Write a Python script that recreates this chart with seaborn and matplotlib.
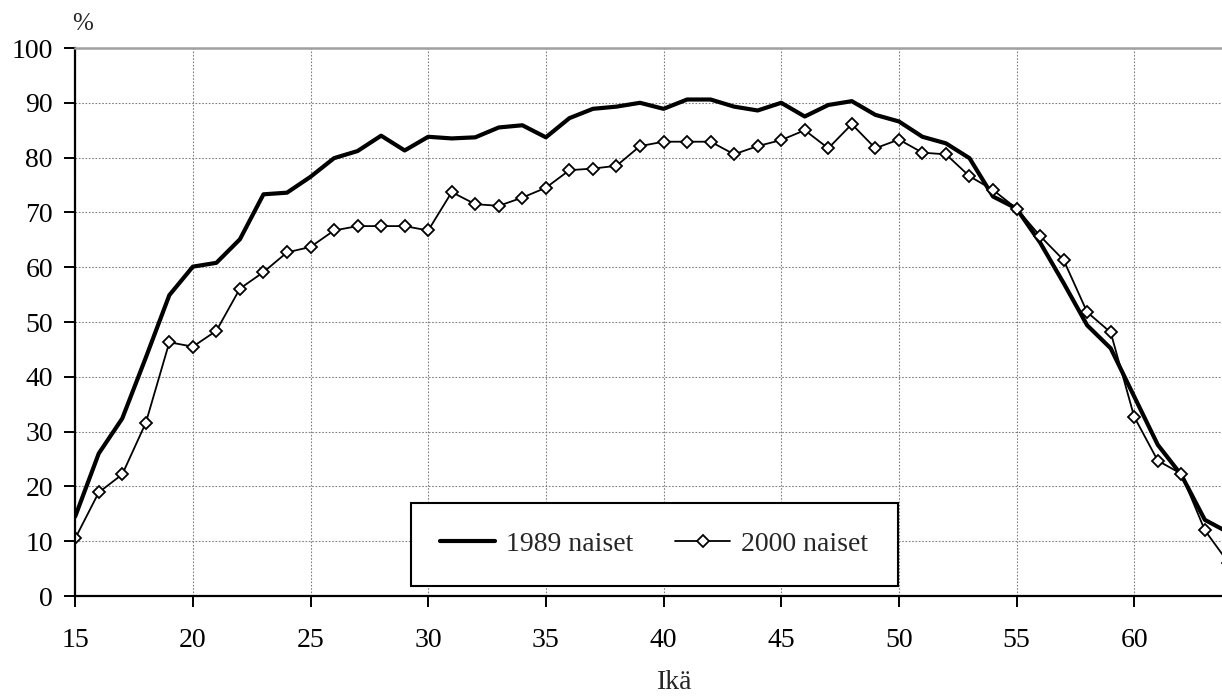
import matplotlib.pyplot as plt
import numpy as np
import pandas as pd
import seaborn as sns

# ages 15..64
age = list(range(15, 65))

naiset_1989 = [14.5, 26.0, 32.4, 43.5, 54.9, 60.1, 60.8, 65.1, 73.3, 73.6,
               76.5, 79.9, 81.2, 84.0, 81.3, 83.8, 83.5, 83.7, 85.5, 85.9,
               83.7, 87.2, 88.9, 89.3, 90.0, 88.9, 90.6, 90.6, 89.3, 88.6,
               90.0, 87.5, 89.6, 90.3, 87.8, 86.6, 83.8, 82.6, 79.9, 72.9,
               70.7, 64.5, 57.1, 49.4, 45.2, 36.4, 27.6, 22.1, 13.9, 11.6]

naiset_2000 = [10.5, 18.9, 22.2, 31.6, 46.3, 45.5, 48.4, 56.1, 59.1, 62.7,
               63.7, 66.7, 67.5, 67.5, 67.5, 66.7, 73.7, 71.5, 71.2, 72.7,
               74.5, 77.7, 78.0, 78.5, 82.1, 82.9, 82.9, 82.9, 80.6, 82.1,
               83.2, 85.0, 81.7, 86.1, 81.7, 83.3, 80.9, 80.6, 76.6, 74.1,
               70.7, 65.7, 61.3, 51.8, 48.1, 32.7, 24.7, 22.3, 12.0, 6.1]

df = pd.DataFrame({'Ikä': age, '1989 naiset': naiset_1989, '2000 naiset': naiset_2000})

sns.set_style('white')
plt.rcParams['font.family'] = ['Liberation Serif', 'DejaVu Serif']

fig = plt.figure(figsize=(12.22, 6.99), dpi=100)
ax = fig.add_axes([75.2 / 1222, 103 / 699, 1 - 75.2 / 1222, 548 / 699])

sns.lineplot(data=df, x='Ikä', y='1989 naiset', color='black', linewidth=3.0,
             label='1989 naiset', ax=ax)
sns.lineplot(data=df, x='Ikä', y='2000 naiset', color='black', linewidth=1.3,
             marker='D', markersize=6.4, markerfacecolor='white',
             markeredgecolor='black', markeredgewidth=1.3,
             label='2000 naiset', ax=ax)

ax.set_xlim(15, 63.73)
ax.set_ylim(0, 100)
ax.set_xticks(np.arange(15, 64, 5))
ax.set_yticks(np.arange(0, 101, 10))
ax.grid(True, color='#808080', linestyle=(0, (1.5, 1.5)), linewidth=0.8)

for s in ['left', 'bottom']:
    ax.spines[s].set_color('black')
    ax.spines[s].set_linewidth(1.6)
ax.spines['top'].set_color('#a0a0a0')
ax.spines['top'].set_linewidth(1.8)
ax.spines['right'].set_visible(False)

ax.tick_params(axis='x', direction='out', length=8, width=1.4, pad=15,
               labelsize=20, bottom=True, colors='black')
ax.tick_params(axis='y', direction='out', length=8, width=1.4, pad=8,
               labelsize=20, left=True, colors='black')

ax.set_xlabel('Ikä', fontsize=20, va='center')
ax.xaxis.set_label_coords(0.523, -0.158)
ax.set_ylabel('')
ax.text(0.0068, 1.044, '%', transform=ax.transAxes, fontsize=18,
        ha='center', va='center')

leg = ax.legend(loc='center', bbox_to_anchor=(0.505, 0.094), ncol=2,
                fontsize=20, frameon=True, fancybox=False, framealpha=1,
                edgecolor='black', borderpad=1.05, handlelength=1.98,
                handletextpad=0.4, columnspacing=1.5, borderaxespad=0)
leg.get_frame().set_linewidth(1.5)

fig.savefig('out.png', dpi=100)
